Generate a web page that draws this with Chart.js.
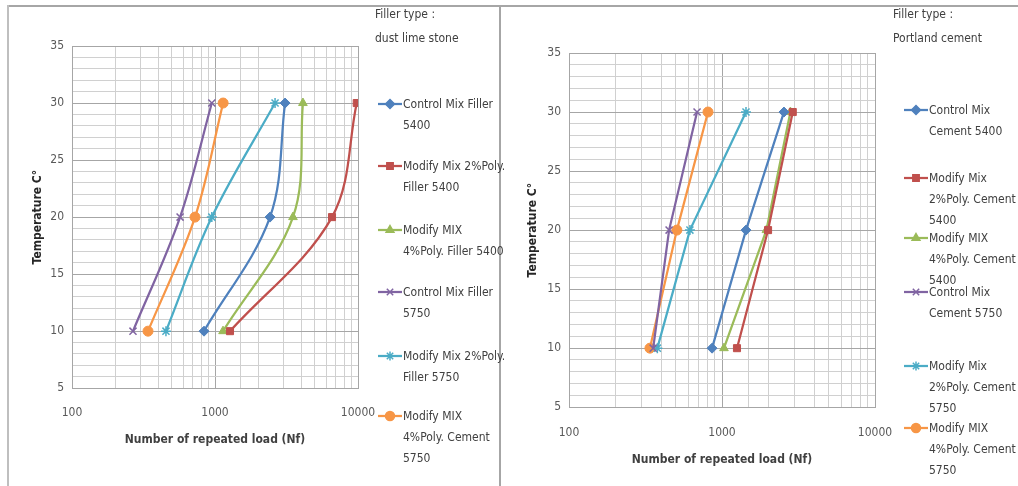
<!DOCTYPE html>
<html>
<head>
<meta charset="utf-8">
<script src="https://cdn.jsdelivr.net/npm/chart.js@4.4.1/dist/chart.umd.min.js"></script>
<style>
  body { margin: 0; background: #fff; width: 1018px; height: 486px; overflow: hidden; position: relative;
         font-family: "Liberation Sans Narrow", "DejaVu Sans Condensed", sans-serif; color: #404040; }
  .frame-top { position: absolute; left: 7px; top: 5px; width: 1011px; height: 2px; background: #a6a6a6; }
  .frame-left { position: absolute; left: 7px; top: 5px; width: 2px; height: 481px; background: #bfbfbf; }
  .divider { position: absolute; left: 499px; top: 5px; width: 2px; height: 481px; background: #a6a6a6; }
  .box { position: absolute; }
  .legend { position: absolute; font-size: 12px; line-height: 21px; }
  .legend .item { position: absolute; left: 0; }
  .legend .item canvas { position: absolute; left: 0; top: 0; }
  .legend .item div { position: absolute; left: 26px; top: -10px; white-space: nowrap; }
</style>
</head>
<body>
<div class="frame-top"></div>
<div class="frame-left"></div>
<div class="divider"></div>

<div class="box" style="left:8px; top:8px; width:374px; height:470px;"><canvas id="chart1"></canvas></div>
<div class="box" style="left:512px; top:8px; width:385px; height:475px;"><canvas id="chart2"></canvas></div>
<div class="legend" id="legend1" style="left:375px; top:4px; width:120px; height:480px;"></div>
<div class="legend" id="legend2" style="left:893px; top:4px; width:125px; height:480px;"></div>

<script>
// temperatures (y) shared by every series
const temps = [10, 20, 30];

// Filler type: dust lime stone — Nf at 10, 20, 30 °C
const limeControl5400 = [838, 2425, 3090];
const limeMod2_5400 = [1273, 6580, 9800];
const limeMod4_5400 = [1138, 3510, 4120];
const limeControl5750 = [267, 570, 950];
const limeMod2_5750 = [454, 950, 2630];
const limeMod4_5750 = [340, 725, 1140];

// Filler type: Portland cement
const cemControl5400 = [861, 1435, 2540];
const cemMod2_5400 = [1253, 2000, 2900];
const cemMod4_5400 = [1030, 1950, 2800];
const cemControl5750 = [355, 451, 687];
const cemMod2_5750 = [378, 617, 1435];
const cemMod4_5750 = [338, 507, 810];

const limeNames = [
    ['Control Mix Filler', '5400'],
    ['Modify Mix 2%Poly.', 'Filler 5400'],
    ['Modify MIX', '4%Poly. Filler 5400'],
    ['Control Mix Filler', '5750'],
    ['Modify Mix 2%Poly.', 'Filler 5750'],
    ['Modify MIX', '4%Poly. Cement', '5750']
];
const cemNames = [
    ['Control Mix', 'Cement 5400'],
    ['Modify Mix', '2%Poly. Cement', '5400'],
    ['Modify MIX', '4%Poly. Cement', '5400'],
    ['Control Mix', 'Cement 5750'],
    ['Modify Mix', '2%Poly. Cement', '5750'],
    ['Modify MIX', '4%Poly. Cement', '5750']
];
const limeTitle = ['Filler type :', 'dust lime stone'];
const cemTitle = ['Filler type :', 'Portland cement'];

const xTickLabels = [100, 1000, 10000];
const yTickLabels = [5, 10, 15, 20, 25, 30, 35];

const colors = ['#4F81BD', '#C0504D', '#9BBB59', '#8064A2', '#4BACC6', '#F79646'];
const markers = ['rectRot', 'rect', 'triangle', 'crossRot', 'star', 'circle'];
const markerSize = [5, 5, 5, 5, 5, 5];

const FONT = '"Liberation Sans Narrow", "DejaVu Sans Condensed", sans-serif';

function toPoints(values) {
    return values.map((v, i) => ({ x: v, y: temps[i] }));
}

function buildDatasets(seriesList, names, tension) {
    return seriesList.map((vals, i) => ({
        label: names[i].join(' '),
        data: toPoints(vals),
        showLine: true,
        borderColor: colors[i],
        backgroundColor: colors[i],
        borderWidth: 2.25,
        pointStyle: markers[i],
        pointRadius: markerSize[i],
        pointBorderWidth: markers[i] === 'crossRot' || markers[i] === 'star' ? 1.5 : 1,
        pointBorderColor: colors[i],
        pointBackgroundColor: colors[i],
        tension: tension
    }));
}

function createLogChart(canvasId, datasets, opt) {
    const ctx = document.getElementById(canvasId).getContext('2d');
    new Chart(ctx, {
        type: 'scatter',
        data: { datasets },
        options: {
            responsive: true,
            maintainAspectRatio: false,
            animation: false,
            layout: { padding: { left: 0, right: opt.padRight, top: opt.padTop, bottom: 0 } },
            plugins: { legend: { display: false }, tooltip: { enabled: false } },
            scales: {
                x: {
                    type: 'logarithmic',
                    min: 100,
                    max: 10000,
                    grid: {
                        drawTicks: true,
                        tickLength: opt.xTickGap,
                        tickColor: 'rgba(0,0,0,0)',
                        color: c => {
                            const v = c.tick ? c.tick.value : 0;
                            return xTickLabels.includes(v) ? '#a6a6a6' : '#d0d0d0';
                        },
                        lineWidth: 1
                    },
                    border: { color: '#a6a6a6' },
                    ticks: {
                        autoSkip: false,
                        maxRotation: 0,
                        padding: 0,
                        color: '#595959',
                        font: { family: FONT, size: 12 },
                        callback: v => xTickLabels.includes(v) ? String(v) : ''
                    },
                    title: {
                        display: true,
                        text: 'Number of repeated load (Nf)',
                        color: '#404040',
                        font: { family: FONT, size: 12, weight: 'bold' },
                        padding: { top: opt.xTitleTop, bottom: opt.xTitleBottom }
                    }
                },
                y: {
                    min: 5,
                    max: 35,
                    afterFit: s => { s.width = opt.yWidth; },
                    grid: {
                        drawTicks: false,
                        color: c => (c.tick && yTickLabels.includes(c.tick.value)) ? '#a6a6a6' : '#d0d0d0',
                        lineWidth: 1
                    },
                    border: { color: '#a6a6a6' },
                    ticks: {
                        stepSize: 1,
                        autoSkip: false,
                        padding: 8,
                        color: '#595959',
                        font: { family: FONT, size: 12 },
                        callback: v => yTickLabels.includes(v) ? String(v) : ''
                    },
                    title: {
                        display: true,
                        text: 'Temperature C°',
                        color: '#262626',
                        font: { family: FONT, size: 12, weight: 'bold' },
                        padding: { top: opt.yTitlePad, bottom: 0 }
                    }
                }
            }
        }
    });
}

function createLegend(divId, title, names, rows) {
    const box = document.getElementById(divId);
    title.forEach((t, i) => {
        const d = document.createElement('div');
        d.style.position = 'absolute';
        d.style.left = '0px';
        d.style.top = (i * rows.titleGap) + 'px';
        d.style.whiteSpace = 'nowrap';
        d.textContent = t;
        box.appendChild(d);
    });
    names.forEach((lines, i) => {
        const item = document.createElement('div');
        item.className = 'item';
        item.style.top = rows.y[i] + 'px';
        item.style.left = rows.x + 'px';
        const cv = document.createElement('canvas');
        cv.width = 26; cv.height = 12;
        cv.style.top = '-6px';
        const c = cv.getContext('2d');
        c.strokeStyle = colors[i];
        c.lineWidth = 2.25;
        c.beginPath(); c.moveTo(1, 6); c.lineTo(25, 6); c.stroke();
        c.fillStyle = colors[i];
        c.lineWidth = 1.5;
        Chart.helpers.drawPoint(c, { pointStyle: markers[i], radius: 4.5, borderWidth: 1.5 }, 13, 6);
        item.appendChild(cv);
        const t = document.createElement('div');
        t.innerHTML = lines.map(s => s.replace(/&/g, '&amp;').replace(/</g, '&lt;')).join('<br>');
        item.appendChild(t);
        box.appendChild(item);
    });
}

createLogChart('chart1',
    buildDatasets([limeControl5400, limeMod2_5400, limeMod4_5400, limeControl5750, limeMod2_5750, limeMod4_5750], limeNames, 0.35),
    { padRight: 24, padTop: 38, yWidth: 64, yTitlePad: 23, xTickGap: 17, xTitleTop: 13, xTitleBottom: 31 });

createLogChart('chart2',
    buildDatasets([cemControl5400, cemMod2_5400, cemMod4_5400, cemControl5750, cemMod2_5750, cemMod4_5750], cemNames, 0),
    { padRight: 22, padTop: 45, yWidth: 57, yTitlePad: 14, xTickGap: 18, xTitleTop: 13, xTitleBottom: 16 });

createLegend('legend1', limeTitle, limeNames, { x: 2, titleGap: 24, y: [100, 162, 226, 288, 352, 412] });
createLegend('legend2', cemTitle, cemNames, { x: 10, titleGap: 24, y: [106, 174, 234, 288, 362, 424] });
</script>
</body>
</html>
